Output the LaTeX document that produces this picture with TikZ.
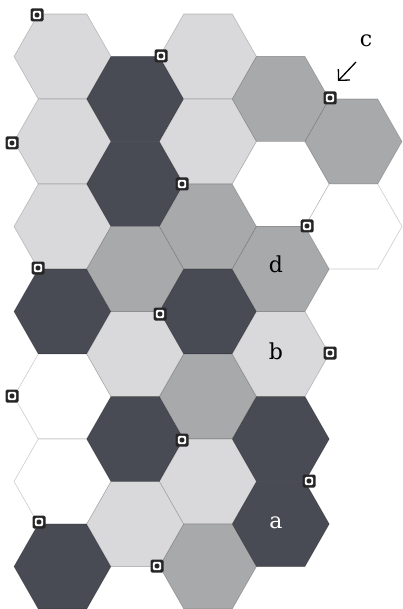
\documentclass[tikz,border=0pt]{standalone}
\usepackage{fontspec}
\setmainfont{DejaVu Serif}
\usetikzlibrary{arrows.meta}
\definecolor{hdark}{HTML}{484B53}
\definecolor{hmed}{HTML}{A8A9AB}
\definecolor{hlight}{HTML}{D9D9DB}
\definecolor{mk}{HTML}{262626}
\tikzset{
  hexline/.style={draw=black, draw opacity=0.2, line width=0.6pt},
  marker/.style={fill=mk, minimum size=13pt, inner sep=0pt, rounded corners=1.5pt,
    path picture={
      \fill[white] ([shift={(-4.2pt,-4.2pt)}]path picture bounding box.center) rectangle ([shift={(4.2pt,4.2pt)}]path picture bounding box.center);
      \fill[mk] ([shift={(-2.4pt,-2.4pt)}]path picture bounding box.center) rectangle ([shift={(2.4pt,2.4pt)}]path picture bounding box.center);
    }},
  lbl/.style={font=\fontsize{22}{24}\selectfont, inner sep=0pt, anchor=base},
}
\newcommand\hexcell[3]{%
  \filldraw[hexline, fill=#3, shift={(#1,#2)}]
    (-48.5,0) -- (-24.25,-42.5) -- (24.25,-42.5) -- (48.5,0) -- (24.25,42.5) -- (-24.25,42.5) -- cycle;}
\begin{document}
\begin{tikzpicture}[x=1pt,y=-1pt]
\useasboundingbox (0,0) rectangle (403,609);
\clip (0,0) rectangle (403,609);
\fill[white] (0,0) rectangle (403,609);
% column 0
\foreach \k/\c in {0/hlight,1/hlight,2/hlight,3/hdark,4/white,5/white,6/hdark}
  {\hexcell{62.5}{56.5+85*\k}{\c}}
% column 1
\foreach \k/\c in {0/hdark,1/hdark,2/hmed,3/hlight,4/hdark,5/hlight}
  {\hexcell{135.25}{99+85*\k}{\c}}
% column 2
\foreach \k/\c in {0/hlight,1/hlight,2/hmed,3/hdark,4/hmed,5/hlight,6/hmed}
  {\hexcell{208}{56.5+85*\k}{\c}}
% column 3
\foreach \k/\c in {0/hmed,1/white,2/hmed,3/hlight,4/hdark,5/hdark}
  {\hexcell{280.75}{99+85*\k}{\c}}
% column 4
\foreach \k/\c in {0/hmed,1/white}
  {\hexcell{353.5}{141.5+85*\k}{\c}}
% markers
\node[marker] (m1) at (37,15) {};
\node[marker] (m2) at (161,56) {};
\node[marker] (m3) at (12,143) {};
\node[marker] (m4) at (182,184) {};
\node[marker] (m5) at (330,98) {};
\node[marker] (m6) at (307,226) {};
\node[marker] (m7) at (38,268) {};
\node[marker] (m8) at (160,314) {};
\node[marker] (m9) at (12,396) {};
\node[marker] (m10) at (330,353) {};
\node[marker] (m11) at (182,440) {};
\node[marker] (m12) at (309,481) {};
\node[marker] (m13) at (39,522) {};
\node[marker] (m14) at (157,566) {};
% labels
\node[lbl] (lc) at (366,47) {c};
\node[lbl] (ld) at (276,272) {d};
\node[lbl] (lb) at (276,359) {b};
\node[lbl, text=white] (la) at (276,528) {a};
\coordinate (arrS) at (356,62);
\coordinate (arrE) at (338,81);
\draw[line width=1.3pt, -{Straight Barb[length=8pt,width=16pt]}] (arrS) -- (arrE);
\end{tikzpicture}
\end{document}
